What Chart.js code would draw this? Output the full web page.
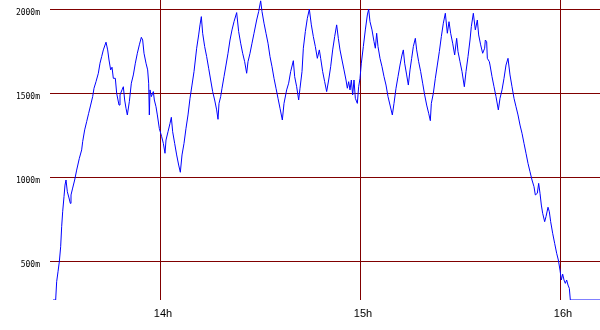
<!DOCTYPE html>
<html lang="en">
<head>
    <meta charset="UTF-8">
    <title>Altitude</title>
    <script src="https://cdn.jsdelivr.net/npm/chart.js"></script>
    <style>
        body { margin: 0; background: #fff; }
    </style>
</head>
<body>
    <canvas id="altChart" width="600" height="330"></canvas>

    <script>
        // time in minutes after 13:00, altitude in metres
        const minutes = [
            27.9, 28.7, 29.0, 29.4, 29.8, 30.2, 30.5, 30.8, 31.2, 31.5, 31.8, 32.2, 32.7, 33.1, 33.3, 33.8,
            34.4, 35.0, 35.8, 36.5, 36.8, 37.4, 38.0, 38.6, 39.2, 39.8, 40.2, 40.8, 41.5, 42.0, 42.5, 43.0,
            43.8, 44.3, 44.7, 45.2, 45.6, 46.0, 46.6, 47.0, 47.7, 48.0, 48.6, 49.0, 49.4, 49.8, 50.2, 50.8,
            51.4, 52.0, 52.6, 53.2, 53.8, 54.4, 54.8, 55.2, 55.8, 56.3, 56.6, 56.8, 57.0, 57.4, 58.0, 58.3,
            58.8, 59.2, 59.8, 60.5, 61.0, 61.5, 61.8, 62.4, 63.0, 63.4, 63.8, 64.4, 65.0, 65.6, 66.1, 66.6,
            67.2, 67.8, 68.4, 69.0, 69.6, 70.2, 70.6, 71.0, 71.6, 72.0, 72.4, 72.8, 73.4, 74.0, 74.6, 75.2,
            75.8, 76.4, 77.0, 77.4, 77.7, 78.2, 78.6, 79.2, 79.8, 80.4, 81.0, 81.6, 82.2, 83.0, 83.6, 84.2,
            84.8, 85.4, 86.0, 86.4, 87.0, 87.6, 88.2, 89.0, 89.6, 90.2, 90.6, 91.2, 91.8, 92.4, 93.0, 93.6,
            94.2, 94.8, 95.4, 96.0, 96.7, 97.2, 98.0, 98.6, 99.2, 100.0, 100.4, 101.0, 101.6, 102.0, 102.6, 103.0,
            103.6, 104.2, 104.8, 105.4, 106.0, 106.6, 107.2, 107.8, 108.2, 108.8, 109.4, 110.0, 110.6, 111.2, 111.8, 112.4,
            113.0, 113.5, 114.0, 114.6, 115.2, 115.8, 116.2, 116.6, 117.0, 117.4, 117.8, 118.2, 118.6, 119.2, 119.6, 120.0,
            120.4, 121.0, 121.6, 122.2, 122.6, 123.0, 123.6, 124.2, 124.6, 125.0, 125.4, 126.0, 126.6, 127.2, 127.8, 128.4,
            129.0, 129.7, 130.2, 130.8, 131.4, 132.0, 132.6, 133.0, 133.4, 134.0, 134.5, 135.0, 135.5, 136.0, 136.6, 137.0,
            137.6, 138.2, 138.8, 139.4, 140.0, 140.6, 141.1, 141.4, 142.0, 142.6, 143.2, 143.8, 144.4, 145.0, 145.6, 146.2,
            146.7, 147.2, 147.8, 148.4, 149.0, 149.4, 150.0, 150.6, 151.3, 151.8, 152.4, 153.0, 153.4, 154.0, 154.6, 155.2,
            155.6, 156.2, 156.8, 157.4, 157.6, 158.0, 158.2, 158.8, 159.0, 159.6, 160.2, 160.8, 161.5, 162.0, 162.6, 163.2,
            163.8, 164.4, 165.0, 165.6, 166.2, 166.8, 167.4, 168.0, 168.6, 169.2, 169.8, 170.4, 171.0, 171.6, 172.2, 172.6,
            173.2, 173.6, 174.0, 174.4, 174.8, 175.4, 175.8, 176.4, 176.8, 177.2, 177.8, 178.4, 179.0, 179.5, 180.0, 180.4,
            180.8, 181.2, 181.6, 182.0, 182.4, 182.8, 183.1, 192.0
        ];
        const altitude = [
            270, 270, 379, 438, 498, 587, 706, 795, 885, 954, 984, 914, 877, 845, 895, 936,
            984, 1043, 1113, 1163, 1212, 1282, 1331, 1381, 1430, 1480, 1530, 1569, 1619, 1679, 1718, 1758,
            1804, 1758, 1698, 1639, 1655, 1589, 1589, 1500, 1430, 1490, 1520, 1539, 1460, 1411, 1371, 1450,
            1560, 1609, 1679, 1738, 1788, 1833, 1817, 1738, 1679, 1639, 1560, 1371, 1520, 1480, 1510, 1460,
            1420, 1371, 1290, 1242, 1202, 1143, 1222, 1271, 1321, 1357, 1271, 1202, 1133, 1073, 1030, 1133,
            1202, 1292, 1371, 1470, 1549, 1629, 1698, 1768, 1847, 1907, 1956, 1857, 1778, 1718, 1649, 1579,
            1510, 1460, 1401, 1345, 1440, 1480, 1530, 1599, 1668, 1738, 1817, 1877, 1926, 1980, 1867, 1798,
            1738, 1688, 1619, 1688, 1738, 1798, 1857, 1936, 1986, 2050, 1986, 1917, 1857, 1798, 1718, 1658,
            1589, 1530, 1470, 1411, 1341, 1440, 1520, 1560, 1629, 1694, 1599, 1539, 1460, 1530, 1629, 1768,
            1867, 1946, 2000, 1907, 1837, 1778, 1708, 1758, 1708, 1629, 1569, 1510, 1579, 1658, 1758, 1837,
            1907, 1827, 1758, 1698, 1639, 1579, 1530, 1569, 1520, 1579, 1490, 1579, 1470, 1440, 1539, 1589,
            1679, 1778, 1877, 1966, 2000, 1926, 1877, 1807, 1768, 1857, 1778, 1708, 1658, 1599, 1549, 1480,
            1430, 1371, 1440, 1530, 1599, 1668, 1728, 1758, 1679, 1609, 1549, 1639, 1708, 1778, 1827, 1758,
            1688, 1629, 1560, 1490, 1430, 1381, 1337, 1440, 1500, 1589, 1668, 1748, 1837, 1917, 1976, 1857,
            1926, 1857, 1798, 1728, 1827, 1748, 1688, 1629, 1539, 1629, 1718, 1817, 1897, 1976, 1877, 1936,
            1847, 1788, 1738, 1768, 1817, 1807, 1708, 1688, 1668, 1599, 1539, 1480, 1401, 1470, 1520, 1589,
            1668, 1708, 1609, 1539, 1470, 1420, 1371, 1311, 1262, 1202, 1143, 1083, 1033, 984, 944, 895,
            905, 964, 905, 835, 786, 736, 766, 822, 795, 736, 667, 607, 548, 508, 448, 389,
            424, 389, 369, 389, 359, 339, 270, 270
        ];

        const xTicks = [60, 120, 180];
        const xTickLabels = ['14h', '15h', '16h'];
        const yTicks = [500, 1000, 1500, 2000];
        const yTickLabels = ['500m', '1000m', '1500m', '2000m'];

        const gridRed = '#800000';

        const points = minutes.map((m, i) => ({ x: m, y: altitude[i] }));

        const ctx = document.getElementById('altChart').getContext('2d');
        const altChart = new Chart(ctx, {
            type: 'line',
            data: {
                datasets: [{
                    data: points,
                    borderColor: '#0000ff',
                    borderWidth: 1,
                    pointRadius: 0,
                    tension: 0,
                    fill: false
                }]
            },
            options: {
                responsive: false,
                animation: false,
                layout: { padding: 0 },
                plugins: {
                    legend: { display: false },
                    tooltip: { enabled: false }
                },
                scales: {
                    x: {
                        type: 'linear',
                        min: 27,
                        max: 192,
                        afterBuildTicks: (scale) => {
                            scale.ticks = xTicks.map(v => ({ value: v }));
                        },
                        afterFit: (scale) => {
                            scale.height = 30;
                            scale.paddingLeft = 0;
                            scale.paddingRight = 0;
                        },
                        grid: { color: gridRed, lineWidth: 1, drawTicks: false },
                        border: { display: false },
                        ticks: {
                            autoSkip: false,
                            maxRotation: 0,
                            padding: 7,
                            labelOffset: 3,
                            color: '#000',
                            font: { family: 'Liberation Sans', size: 11 },
                            callback: (v) => xTickLabels[xTicks.indexOf(v)]
                        }
                    },
                    y: {
                        min: 270,
                        max: 2055,
                        afterBuildTicks: (scale) => {
                            scale.ticks = yTicks.map(v => ({ value: v }));
                        },
                        afterFit: (scale) => {
                            scale.width = 50;
                            scale.paddingTop = 0;
                            scale.paddingBottom = 0;
                        },
                        grid: { color: gridRed, lineWidth: 1, drawTicks: false },
                        border: { display: false },
                        ticks: {
                            autoSkip: false,
                            padding: 10,
                            labelOffset: 4,
                            color: '#000',
                            font: { family: 'DejaVu Sans Mono', size: 8 },
                            callback: (v) => yTickLabels[yTicks.indexOf(v)]
                        }
                    }
                }
            }
        });
    </script>
</body>
</html>
